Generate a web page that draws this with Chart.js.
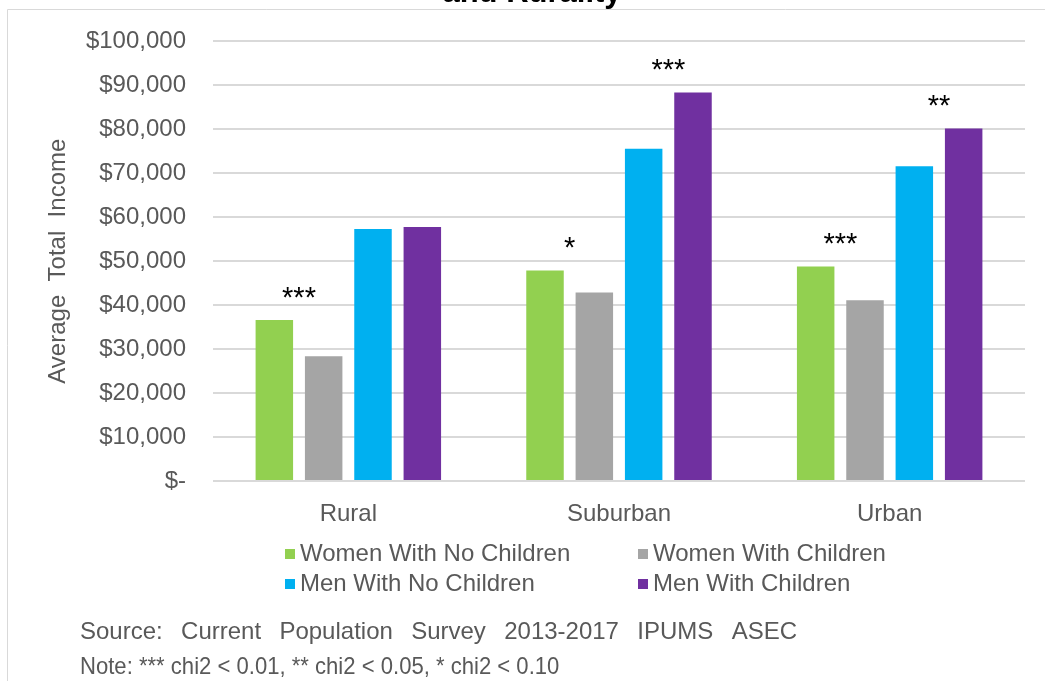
<!DOCTYPE html>
<html>
<head>
<meta charset="utf-8">
<script src="https://cdn.jsdelivr.net/npm/chart.js@4.4.1/dist/chart.umd.min.js"></script>
<style>
  html, body { margin: 0; padding: 0; background: #ffffff; }
  canvas { display: block; }
</style>
</head>
<body>
<canvas id="incomeChart" width="1045" height="681"></canvas>
<script>
// Average total income by gender, parental status and rurality
const categories = ['Rural', 'Suburban', 'Urban'];
const seriesNames = ['Women With No Children', 'Women With Children', 'Men With No Children', 'Men With Children'];
const womenNoChildren = [36600, 47900, 48800];
const womenWithChildren = [28400, 42900, 41100];
const menNoChildren = [57300, 75600, 71600];
const menWithChildren = [57800, 88400, 80200];
// significance markers: women pair and men pair within each category
const womenSignificance = ['***', '*', '***'];
const menSignificance = ['', '***', '**'];
const yTickLabels = ['$-', '$10,000', '$20,000', '$30,000', '$40,000', '$50,000',
  '$60,000', '$70,000', '$80,000', '$90,000', '$100,000'];
const titleText = 'and Rurality';
const yAxisTitle = 'Average  Total  Income';
const sourceText = 'Source: Current Population Survey 2013-2017 IPUMS ASEC';
const noteText = 'Note: *** chi2 < 0.01, ** chi2 < 0.05, * chi2 < 0.10';

const seriesColors = ['#92D050', '#A5A5A5', '#00B0F0', '#7030A0'];
const FONT = '"Liberation Sans", Arial, Helvetica, sans-serif';
const TEXT_GREY = '#595959';

const seriesValues = [womenNoChildren, womenWithChildren, menNoChildren, menWithChildren];

const decorations = {
  id: 'decorations',
  beforeDraw(chart) {
    const ctx = chart.ctx;
    ctx.save();
    // outer frame
    ctx.strokeStyle = '#d9d9d9';
    ctx.lineWidth = 1;
    ctx.beginPath();
    ctx.moveTo(7.5, 681);
    ctx.lineTo(7.5, 9.5);
    ctx.lineTo(1045, 9.5);
    ctx.stroke();
    // title (last line)
    ctx.fillStyle = '#000000';
    ctx.font = 'bold 31px ' + FONT;
    ctx.textAlign = 'center';
    ctx.textBaseline = 'alphabetic';
    ctx.fillText(titleText, 532, 2);
    ctx.restore();
  },
  afterDatasetsDraw(chart) {
    const ctx = chart.ctx;
    ctx.save();
    ctx.fillStyle = '#000000';
    ctx.font = '29px ' + FONT;
    ctx.textAlign = 'center';
    ctx.textBaseline = 'alphabetic';
    const pairs = [[0, 1, womenSignificance], [2, 3, menSignificance]];
    categories.forEach((_, i) => {
      pairs.forEach(([a, b, marks]) => {
        const label = marks[i];
        if (!label) return;
        const barA = chart.getDatasetMeta(a).data[i];
        const barB = chart.getDatasetMeta(b).data[i];
        const x = (barA.x + barB.x) / 2;
        const top = Math.min(barA.y, barB.y);
        ctx.fillText(label, x, top - 13);
      });
    });
    ctx.restore();
  },
  afterDraw(chart) {
    const ctx = chart.ctx;
    ctx.save();
    // legend in two columns
    const colX = [285, 638];
    const rowY = [553, 583];
    ctx.font = '24px ' + FONT;
    ctx.textBaseline = 'middle';
    ctx.textAlign = 'left';
    chart.data.datasets.forEach((ds, k) => {
      const x = colX[k % 2];
      const y = rowY[Math.floor(k / 2)];
      ctx.fillStyle = ds.backgroundColor;
      ctx.fillRect(x, y - 4, 10, 10);
      ctx.fillStyle = TEXT_GREY;
      ctx.fillText(ds.label, x + 15, y + 1);
    });

    // source line, spread across its box
    ctx.fillStyle = TEXT_GREY;
    ctx.font = '24px ' + FONT;
    ctx.textBaseline = 'middle';
    const words = sourceText.split(' ');
    const widths = words.map(w => ctx.measureText(w).width);
    const span = 797 - 80;
    const gap = (span - widths.reduce((s, w) => s + w, 0)) / (words.length - 1);
    let cx = 80;
    words.forEach((w, j) => {
      ctx.fillText(w, cx, 632);
      cx += widths[j] + gap;
    });

    // note line, slightly condensed
    ctx.save();
    ctx.translate(80, 667);
    ctx.scale(0.92, 1);
    ctx.fillText(noteText, 0, 0);
    ctx.restore();

    ctx.restore();
  }
};

new Chart(document.getElementById('incomeChart'), {
  type: 'bar',
  data: {
    labels: categories,
    datasets: seriesNames.map((name, k) => ({
      label: name,
      data: seriesValues[k],
      backgroundColor: seriesColors[k],
      borderWidth: 0,
      categoryPercentage: 0.729,
      barPercentage: 0.76
    }))
  },
  options: {
    responsive: false,
    animation: false,
    devicePixelRatio: 1,
    layout: { padding: { top: 38, right: 20, bottom: 150, left: 0 } },
    plugins: {
      legend: { display: false },
      title: { display: false },
      tooltip: { enabled: false }
    },
    scales: {
      x: {
        grid: { display: false },
        border: { display: false },
        ticks: {
          color: TEXT_GREY,
          font: { family: FONT, size: 24 },
          padding: 11,
          maxRotation: 0
        },
        afterFit(scale) { scale.height = 50; }
      },
      y: {
        min: 0,
        max: 100000,
        grid: { color: '#d9d9d9', lineWidth: 2, drawTicks: false },
        border: { display: false },
        ticks: {
          stepSize: 10000,
          color: TEXT_GREY,
          font: { family: FONT, size: 24 },
          padding: 27,
          callback: (value) => yTickLabels[Math.round(value / 10000)]
        },
        title: {
          display: true,
          text: yAxisTitle,
          color: TEXT_GREY,
          font: { family: FONT, size: 24 },
          padding: { top: 44, bottom: 0 }
        },
        afterFit(scale) { scale.width = 213; }
      }
    }
  },
  plugins: [decorations]
});
</script>
</body>
</html>
